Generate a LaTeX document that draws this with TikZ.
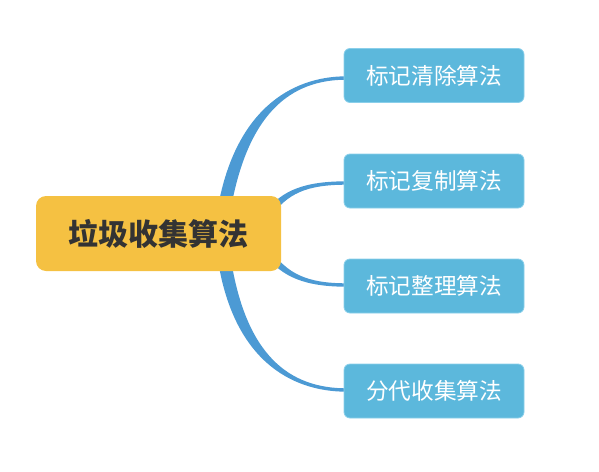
\documentclass[tikz,border=0pt]{standalone}
\usepackage{fontspec}
\newfontfamily\cjk{Noto Sans CJK SC}
\usetikzlibrary{calc}
\pgfdeclarelayer{bg}
\pgfsetlayers{bg,main}
\definecolor{rootfill}{HTML}{F5C142}
\definecolor{roottext}{HTML}{333333}
\definecolor{leaffill}{HTML}{5CB8DC}
\definecolor{leafline}{HTML}{8ACFEA}
\definecolor{branchcol}{HTML}{4C9AD4}
\tikzset{
  rootbox/.style={rectangle, rounded corners=7.5pt, fill=rootfill, draw=none,
    minimum width=183.75pt, minimum height=56.25pt, inner sep=0pt,
    font=\cjk\bfseries\fontsize{22.5pt}{26pt}\selectfont, text=roottext},
  leafbox/.style={rectangle, rounded corners=4.5pt, fill=leaffill, draw=leafline, line width=0.6pt,
    minimum width=135pt, minimum height=40.5pt, inner sep=0pt,
    font=\cjk\fontsize{17pt}{20pt}\selectfont, text=white},
  branch/.style={fill=branchcol, draw=none}
}
\newcommand\branch[6]{%
  \fill[branch] ($(#1)+(#3)$) .. controls ($(#1)+(#3)+(#4)$) and ($(#2)+(#5)+(#6)$) .. ($(#2)+(#6)$)
    -- ($(#2)-(#6)$) .. controls ($(#2)+(#5)-(#6)$) and ($(#1)-(#3)+(#4)$) .. ($(#1)-(#3)$) -- cycle;}
\begin{document}
\begin{tikzpicture}[x=0.75pt,y=-0.75pt]
\useasboundingbox (0,0) rectangle (599,471);
\node[rootbox] (c) at (158.5,233.5) {垃圾收集算法};
\node[leafbox] (b1) at (434,75.5) {标记清除算法};
\node[leafbox] (b2) at (434,181) {标记复制算法};
\node[leafbox] (b3) at (434,286) {标记整理算法};
\node[leafbox] (b4) at (434,391) {分代收集算法};
\coordinate (s1) at ($(c.north west)+(188,16)$);
\coordinate (s2) at ($(c.north west)+(232,19)$);
\coordinate (s3) at ($(c.south west)+(232,-19)$);
\coordinate (s4) at ($(c.south west)+(188,-16)$);
\coordinate (e1) at ($(b1.west)+(3,2.5)$);
\coordinate (e2) at ($(b2.west)+(3,2)$);
\coordinate (e3) at ($(b3.west)+(3,-1)$);
\coordinate (e4) at ($(b4.west)+(3,-1)$);
\begin{pgfonlayer}{bg}
\branch{s1}{e1}{6.4,1.1}{17,-100}{-56,0}{0,1.7}
\branch{s2}{e2}{2.8,2.1}{17,-23}{-41,0}{0,1.7}
\branch{s3}{e3}{2.8,-2.1}{17,23}{-41,0}{0,-1.7}
\branch{s4}{e4}{6.4,-1.1}{15,103}{-56,0}{0,-1.7}
\end{pgfonlayer}
\end{tikzpicture}
\end{document}
